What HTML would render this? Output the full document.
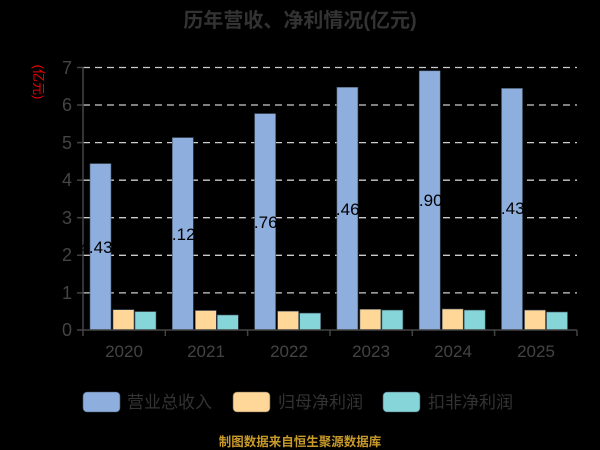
<!DOCTYPE html>
<html><head><meta charset="utf-8"><style>html,body{margin:0;padding:0;background:#000}svg{display:block}</style></head>
<body>
<svg width="600" height="450" xmlns="http://www.w3.org/2000/svg" font-family="'Liberation Sans','Noto Sans CJK SC',sans-serif">
<rect width="600" height="450" fill="#000"/>
<text x="300" y="27" text-anchor="middle" font-size="20" font-weight="bold" fill="#333">历年营收、净利情况(亿元)</text>
<text transform="translate(34,82) rotate(90)" text-anchor="middle" font-size="13" fill="#e00">(亿元)</text>
<g stroke="#ccc" stroke-width="1.3" stroke-dasharray="7,5">
<line x1="83" y1="67.5" x2="577" y2="67.5"/><line x1="83" y1="105" x2="577" y2="105"/><line x1="83" y1="142.6" x2="577" y2="142.6"/><line x1="83" y1="180.2" x2="577" y2="180.2"/><line x1="83" y1="217.7" x2="577" y2="217.7"/><line x1="83" y1="255.3" x2="577" y2="255.3"/><line x1="83" y1="292.9" x2="577" y2="292.9"/>
</g>
<g stroke="#444" stroke-width="1.5"><line x1="83" y1="67" x2="83" y2="330"/>
<line x1="77" y1="67.5" x2="83" y2="67.5"/><line x1="77" y1="105" x2="83" y2="105"/><line x1="77" y1="142.6" x2="83" y2="142.6"/><line x1="77" y1="180.2" x2="83" y2="180.2"/><line x1="77" y1="217.7" x2="83" y2="217.7"/><line x1="77" y1="255.3" x2="83" y2="255.3"/><line x1="77" y1="292.9" x2="83" y2="292.9"/><line x1="77" y1="330" x2="83" y2="330"/></g>
<g font-size="18" fill="#444" text-anchor="end">
<text x="72" y="74">7</text><text x="72" y="111">6</text><text x="72" y="149">5</text><text x="72" y="186">4</text><text x="72" y="224">3</text><text x="72" y="261">2</text><text x="72" y="299">1</text><text x="72" y="336">0</text></g>
<g id="bars" stroke="#456" stroke-width="0.6">
<rect x="90" y="163.6" width="21" height="166.4" fill="#8eaede"/><rect x="113" y="309.7" width="21" height="20.3" fill="#ffd899"/><rect x="135" y="311.6" width="21" height="18.4" fill="#86d5d8"/>
<rect x="172.3" y="137.6" width="21" height="192.4" fill="#8eaede"/><rect x="195.3" y="310.5" width="21" height="19.5" fill="#ffd899"/><rect x="217.3" y="315" width="21" height="15" fill="#86d5d8"/>
<rect x="254.6" y="113.6" width="21" height="216.4" fill="#8eaede"/><rect x="277.6" y="311.2" width="21" height="18.8" fill="#ffd899"/><rect x="299.6" y="313.1" width="21" height="16.9" fill="#86d5d8"/>
<rect x="336.9" y="87.3" width="21" height="242.7" fill="#8eaede"/><rect x="359.9" y="309.3" width="21" height="20.7" fill="#ffd899"/><rect x="381.9" y="310.1" width="21" height="19.9" fill="#86d5d8"/>
<rect x="419.2" y="70.8" width="21" height="259.2" fill="#8eaede"/><rect x="442.2" y="309" width="21" height="21" fill="#ffd899"/><rect x="464.2" y="310.1" width="21" height="19.9" fill="#86d5d8"/>
<rect x="501.5" y="88.4" width="21" height="241.6" fill="#8eaede"/><rect x="524.5" y="310.1" width="21" height="19.9" fill="#ffd899"/><rect x="546.5" y="312" width="21" height="18" fill="#86d5d8"/>
</g>
<g font-size="17" fill="#000" text-anchor="middle">
<text x="96" y="253">4.43</text><text x="179" y="240">5.12</text><text x="261" y="228">5.76</text><text x="343" y="215">6.46</text><text x="426" y="206">6.90</text><text x="508" y="214">6.43</text></g>
<g stroke="#444" stroke-width="1.5"><line x1="83" y1="330" x2="577" y2="330"/>
<line x1="83" y1="330" x2="83" y2="336"/><line x1="165.3" y1="330" x2="165.3" y2="336"/><line x1="247.6" y1="330" x2="247.6" y2="336"/><line x1="330" y1="330" x2="330" y2="336"/><line x1="412.3" y1="330" x2="412.3" y2="336"/><line x1="494.6" y1="330" x2="494.6" y2="336"/><line x1="577" y1="330" x2="577" y2="336"/></g>
<g font-size="17" fill="#444" text-anchor="middle">
<text x="124" y="357">2020</text><text x="206" y="357">2021</text><text x="289" y="357">2022</text><text x="371" y="357">2023</text><text x="453" y="357">2024</text><text x="536" y="357">2025</text></g>
<rect x="83" y="392" width="37" height="20" rx="4" fill="#8eaede" stroke="#456" stroke-width="0.6"/>
<rect x="233" y="392" width="37" height="20" rx="4" fill="#ffd899" stroke="#654" stroke-width="0.6"/>
<rect x="383" y="392" width="37" height="20" rx="4" fill="#86d5d8" stroke="#456" stroke-width="0.6"/>
<g font-size="17" fill="#333"><text x="127" y="408">营业总收入</text><text x="278" y="408">归母净利润</text><text x="428" y="408">扣非净利润</text></g>
<text x="300" y="446" text-anchor="middle" font-size="12.5" font-weight="bold" fill="#c89a2a">制图数据来自恒生聚源数据库</text>
</svg>
</body></html>
